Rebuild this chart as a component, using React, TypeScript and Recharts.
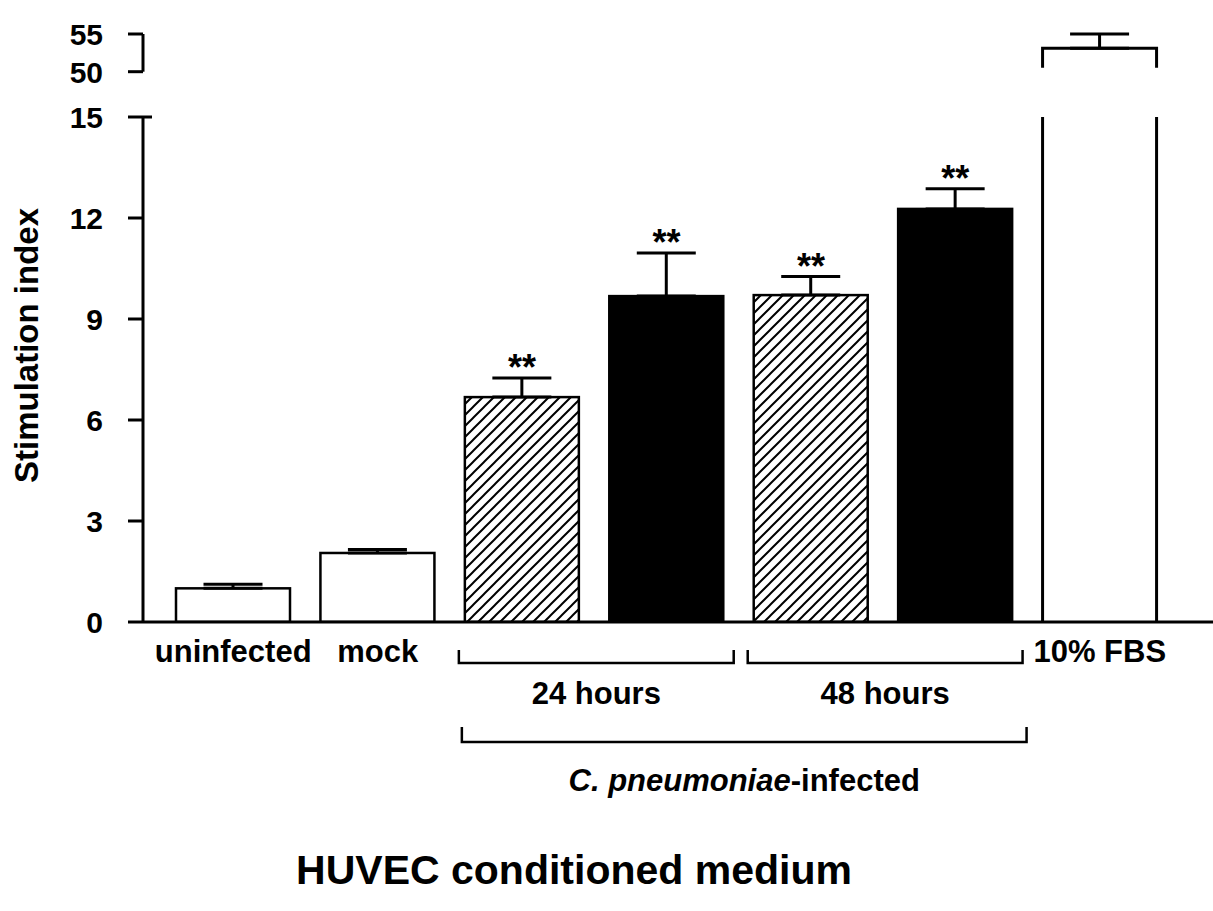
import React from 'react';
import {
  ComposedChart,
  Bar,
  Cell,
  XAxis,
  YAxis,
  ErrorBar,
  Line,
  LabelList,
  ReferenceArea,
} from 'recharts';

// ---- data ----
const categories = [
  'uninfected',
  'mock',
  '24 hours (a)',
  '24 hours (b)',
  '48 hours (a)',
  '48 hours (b)',
  '10% FBS',
];
const tickLabels = ['uninfected', 'mock', '', '', '', '', '10% FBS'];
const stimulationIndex = [1.0, 2.05, 6.68, 9.68, 9.71, 12.27, 53.1];
const sem = [0.12, 0.1, 0.57, 1.28, 0.55, 0.6, 1.9];
const significance = ['', '', '**', '**', '**', '**', ''];
const lowerTicks = [0, 3, 6, 9, 12, 15];
const upperTicks = [50, 55];
const timeGroups = [
  { label: '24 hours', from: categories[2], to: categories[3] },
  { label: '48 hours', from: categories[4], to: categories[5] },
];
const infectedGroup = { from: categories[2], to: categories[5] };

const rows = categories.map((name, i) => ({
  name,
  value: stimulationIndex[i],
  err: [0, sem[i]],
  top: stimulationIndex[i] + sem[i],
  stars: significance[i],
}));

// ---- styling ----
const FONT = "'Liberation Sans', Arial, Helvetica, sans-serif";
const W = 1213;
const H = 911;
const AXIS_W = 143;
const TICK_SIZE = 15;
const TICK_MARGIN = 25;
const X_PAD = { left: 18, right: 41 };
const BAR_SIZE = 114;
const LOWER_DOMAIN: [number, number] = [0, 15];
const UPPER_DOMAIN: [number, number] = [50, 55];
const BAR_FILLS = ['#ffffff', '#ffffff', 'url(#hatch)', '#000000', 'url(#hatch)', '#000000', '#ffffff'];
const INK = '#000000';

const YTick = (props: any) => {
  const { x, y, payload } = props;
  const axisX = x + TICK_SIZE + TICK_MARGIN;
  return (
    <g>
      <text
        x={x}
        y={y}
        dy="0.36em"
        textAnchor="end"
        fontFamily={FONT}
        fontWeight="bold"
        fontSize={30}
        fill={INK}
      >
        {payload.value}
      </text>
      {payload.value === LOWER_DOMAIN[1] && (
        <line x1={axisX} x2={axisX + 9} y1={y} y2={y} stroke={INK} strokeWidth={3} />
      )}
    </g>
  );
};

const XTick = (props: any) => {
  const { x, y, payload } = props;
  const idx = categories.indexOf(payload.value);
  const label = idx >= 0 ? tickLabels[idx] : '';
  if (!label) return null;
  return (
    <text
      x={x}
      y={y + 40}
      textAnchor="middle"
      fontFamily={FONT}
      fontWeight="bold"
      fontSize={31}
      fill={INK}
    >
      {label}
    </text>
  );
};

// bars of the lower (0–15) panel; a bar running past the break is left open at the top
const LowerBar = (props: any) => {
  const { x, y, width, height, fill, payload } = props;
  const base = y + height;
  if (payload.value > LOWER_DOMAIN[1]) {
    const pxPerUnit = height / payload.value;
    const top = base - LOWER_DOMAIN[1] * pxPerUnit - 5;
    return (
      <g>
        <line x1={x} x2={x} y1={base} y2={top} stroke={INK} strokeWidth={3} />
        <line x1={x + width} x2={x + width} y1={base} y2={top} stroke={INK} strokeWidth={3} />
      </g>
    );
  }
  return <rect x={x} y={y} width={width} height={height} fill={fill} stroke={INK} strokeWidth={2.5} />;
};

// bars of the upper (50–55) panel; only the part above the break is drawn
const UpperBar = (props: any) => {
  const { x, y, width, height, payload } = props;
  if (payload.value < UPPER_DOMAIN[0]) return null;
  const base = y + height;
  return (
    <path
      d={`M${x},${base - 4} V${y} H${x + width} V${base - 4}`}
      fill="none"
      stroke={INK}
      strokeWidth={3}
    />
  );
};

const StarLabel = (props: any) => {
  const { x, y, value } = props;
  if (!value) return null;
  return (
    <text x={x} y={y + 2} textAnchor="middle" fontFamily={FONT} fontWeight="bold" fontSize={36} fill={INK}>
      {value}
    </text>
  );
};

const GroupBracket = (props: any) => {
  const { x, y, width, height, label, level } = props;
  const axisY = y + height;
  const cfg =
    level === 0
      ? { h: 41, end: 28, text: 82, inL: 9, inR: 5 }
      : { h: 120, end: 105, text: 169, inL: 12, inR: 1 };
  const x1 = x + cfg.inL;
  const x2 = x + width - cfg.inR;
  return (
    <g>
      <path
        d={`M${x1},${axisY + cfg.end} V${axisY + cfg.h} H${x2} V${axisY + cfg.end}`}
        fill="none"
        stroke={INK}
        strokeWidth={2.5}
      />
      <text
        x={(x1 + x2) / 2}
        y={axisY + cfg.text}
        textAnchor="middle"
        fontFamily={FONT}
        fontWeight="bold"
        fontSize={31}
        fill={INK}
      >
        {level === 0 ? (
          label
        ) : (
          <>
            <tspan fontStyle="italic">C. pneumoniae</tspan>
            <tspan>-infected</tspan>
          </>
        )}
      </text>
    </g>
  );
};

const TitleLabel = (props: any) => {
  const { viewBox } = props;
  const axisY = viewBox.y;
  return (
    <text
      x={574}
      y={axisY + 262}
      textAnchor="middle"
      fontFamily={FONT}
      fontWeight="bold"
      fontSize={41}
      fill={INK}
    >
      HUVEC conditioned medium
    </text>
  );
};

const YTitle = (props: any) => {
  const { viewBox } = props;
  const cx = 38;
  const cy = viewBox.y + viewBox.height / 2 - 24;
  return (
    <text
      x={cx}
      y={cy}
      transform={`rotate(-90, ${cx}, ${cy})`}
      textAnchor="middle"
      fontFamily={FONT}
      fontWeight="bold"
      fontSize={33}
      fill={INK}
    >
      Stimulation index
    </text>
  );
};

export default function App() {
  return (
    <div style={{ position: 'absolute', left: 0, top: 0, width: W, height: H, background: '#fff' }}>
      {/* lower panel: 0–15 */}
      <div style={{ position: 'absolute', left: 0, top: 0 }}>
        <ComposedChart
          width={W}
          height={H}
          data={rows}
          margin={{ top: 117, right: 0, left: 0, bottom: 229 }}
        >
          <defs>
            <pattern id="hatch" patternUnits="userSpaceOnUse" width="11" height="11">
              <rect width="11" height="11" fill="#fff" />
              <path d="M-2,2 L2,-2 M0,11 L11,0 M9,13 L13,9" stroke="#000" strokeWidth="2" />
            </pattern>
          </defs>
          <XAxis
            dataKey="name"
            type="category"
            padding={X_PAD}
            height={60}
            tickSize={0}
            tickMargin={0}
            tickLine={false}
            axisLine={{ stroke: INK, strokeWidth: 3 }}
            tick={<XTick />}
            interval={0}
            label={{ content: <TitleLabel /> }}
          />
          <YAxis
            type="number"
            domain={LOWER_DOMAIN}
            ticks={lowerTicks}
            allowDataOverflow
            width={AXIS_W}
            tickSize={TICK_SIZE}
            tickMargin={TICK_MARGIN}
            axisLine={{ stroke: INK, strokeWidth: 3 }}
            tickLine={{ stroke: INK, strokeWidth: 3 }}
            tick={<YTick />}
            interval={0}
            label={{ content: <YTitle /> }}
          />
          <Bar dataKey="value" barSize={BAR_SIZE} shape={<LowerBar />} isAnimationActive={false}>
            {rows.map((r, i) => (
              <Cell key={r.name} fill={BAR_FILLS[i]} />
            ))}
            <ErrorBar dataKey="err" width={29.5} stroke={INK} strokeWidth={3} direction="y" />
          </Bar>
          <Line
            dataKey="top"
            stroke="none"
            dot={false}
            activeDot={false}
            legendType="none"
            isAnimationActive={false}
          >
            <LabelList dataKey="stars" content={<StarLabel />} />
          </Line>
          {timeGroups.map((g) => (
            <ReferenceArea
              key={g.label}
              x1={g.from}
              x2={g.to}
              ifOverflow="visible"
              shape={<GroupBracket label={g.label} level={0} />}
            />
          ))}
          <ReferenceArea
            x1={infectedGroup.from}
            x2={infectedGroup.to}
            ifOverflow="visible"
            shape={<GroupBracket level={1} />}
          />
        </ComposedChart>
      </div>
      {/* upper panel: 50–55 */}
      <div style={{ position: 'absolute', left: 0, top: 0 }}>
        <ComposedChart
          width={W}
          height={100}
          data={rows}
          margin={{ top: 34, right: 0, left: 0, bottom: 28.3 }}
        >
          <XAxis dataKey="name" type="category" padding={X_PAD} hide />
          <YAxis
            type="number"
            domain={UPPER_DOMAIN}
            ticks={upperTicks}
            allowDataOverflow
            width={AXIS_W}
            tickSize={TICK_SIZE}
            tickMargin={TICK_MARGIN}
            axisLine={{ stroke: INK, strokeWidth: 3 }}
            tickLine={{ stroke: INK, strokeWidth: 3 }}
            tick={<YTick />}
            interval={0}
          />
          <Bar dataKey="value" barSize={BAR_SIZE} shape={<UpperBar />} isAnimationActive={false}>
            <ErrorBar dataKey="err" width={29.5} stroke={INK} strokeWidth={3} direction="y" />
          </Bar>
        </ComposedChart>
      </div>
    </div>
  );
}
